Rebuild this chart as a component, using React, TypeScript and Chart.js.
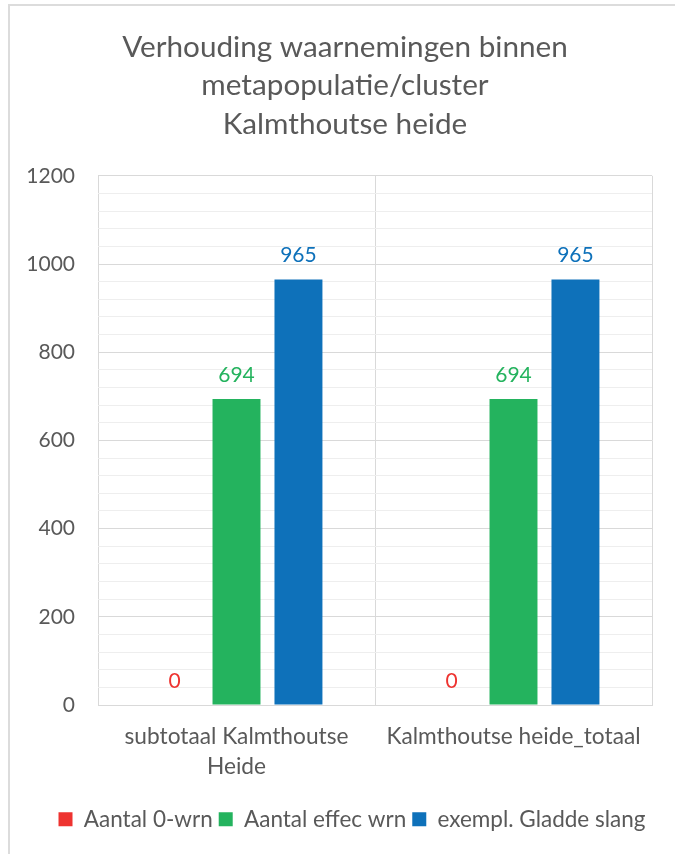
import React, { useEffect, useRef } from "react";
import { Chart, registerables } from "chart.js";

Chart.register(...registerables);

const titleLines = ["Verhouding waarnemingen binnen", "metapopulatie/cluster", "Kalmthoutse heide"];
const categories = [["subtotaal Kalmthoutse", "Heide"], "Kalmthoutse heide_totaal"];
const seriesNames = ["Aantal 0-wrn", "Aantal effec wrn", "exempl. Gladde slang"];
const seriesColors = ["#EE3330", "#24B35E", "#0E71BA"];
const aantal0 = [0, 0];
const aantalEffec = [694, 694];
const exemplGladde = [965, 965];
const yMin = 0;
const yMax = 1200;
const yMinorStep = 40;
const yMajorStep = 200;

const FONT = "Lato, 'Open Sans', sans-serif";
const TEXT = "#595959";

const dataLabelPlugin = {
  id: "dataLabels",
  afterDatasetsDraw(chart: any) {
    const ctx = chart.ctx;
    ctx.save();
    ctx.font = `21px ${FONT}`;
    ctx.textAlign = "center";
    ctx.textBaseline = "middle";
    chart.data.datasets.forEach((ds: any, i: number) => {
      const meta = chart.getDatasetMeta(i);
      meta.data.forEach((bar: any, j: number) => {
        ctx.fillStyle = ds.backgroundColor;
        ctx.fillText(String(ds.data[j]), bar.x, bar.y - 24);
      });
    });
    ctx.restore();
  },
};

// The original chart frame is wider than the visible picture, so its title and legend sit right of centre.
const shiftBoxesPlugin = {
  id: "shiftBoxes",
  afterLayout(chart: any) {
    const t = chart.titleBlock;
    if (t) {
      t.left += 9;
      t.right += 9;
    }
    const l = chart.legend;
    if (l) {
      l.left += 16;
      l.right += 16;
    }
  },
};

export default function App() {
  const ref = useRef<HTMLCanvasElement | null>(null);
  useEffect(() => {
    if (!ref.current) return;
    const values = [aantal0, aantalEffec, exemplGladde];
    const chart = new Chart(ref.current, {
      type: "bar",
      data: {
        labels: categories as any,
        datasets: seriesNames.map((name, i) => ({
          label: name,
          data: values[i],
          backgroundColor: seriesColors[i],
          borderWidth: 0,
          categoryPercentage: 0.671,
          barPercentage: 0.774,
        })),
      },
      options: {
        responsive: false,
        animation: false,
        devicePixelRatio: 1,
        layout: { padding: { left: 20, right: 23, top: 0, bottom: 13.5 } },
        plugins: {
          title: {
            display: true,
            text: titleLines,
            color: TEXT,
            font: { family: FONT, size: 29.7, weight: "normal", lineHeight: 1.3 },
            padding: { top: 28, bottom: 32 },
          },
          legend: {
            position: "bottom",
            labels: {
              boxWidth: 14,
              boxHeight: 14,
              color: TEXT,
              padding: 6,
              font: { family: FONT, size: 22.5 },
            },
          },
          tooltip: { enabled: false },
        },
        scales: {
          x: {
            grid: { offset: true, color: "#d9d9d9", drawTicks: false },
            border: { display: true, color: "#d9d9d9" },
            ticks: {
              color: TEXT,
              font: { family: FONT, size: 22.7, lineHeight: 1.32 },
              padding: 17,
              maxRotation: 0,
              autoSkip: false,
            },
            afterFit: (s: any) => {
              s.height = 97;
            },
          },
          y: {
            min: yMin,
            max: yMax,
            grid: {
              drawTicks: false,
              color: (c: any) => (c.tick && c.tick.value % yMajorStep === 0 ? "#d9d9d9" : "#eeeeee"),
            },
            border: { display: false },
            ticks: {
              stepSize: yMinorStep,
              autoSkip: false,
              color: TEXT,
              padding: 23,
              font: { family: FONT, size: 21 },
              callback: (v: any) => (Number(v) % yMajorStep === 0 ? String(v) : ""),
            },
            afterFit: (s: any) => {
              s.width = 78;
            },
          },
        },
      },
      plugins: [dataLabelPlugin, shiftBoxesPlugin],
    });
    return () => chart.destroy();
  }, []);

  return (
    <div style={{ position: "fixed", left: 0, top: 0, width: 675, height: 854, overflow: "hidden", background: "#fff" }}>
      <div
        style={{
          position: "absolute",
          left: 8,
          top: 4,
          width: 720,
          height: 900,
          border: "2px solid #dcdcdc",
          boxSizing: "border-box",
        }}
      />
      <canvas ref={ref} width={675} height={854} style={{ position: "absolute", left: 0, top: 0, width: 675, height: 854 }} />
    </div>
  );
}
